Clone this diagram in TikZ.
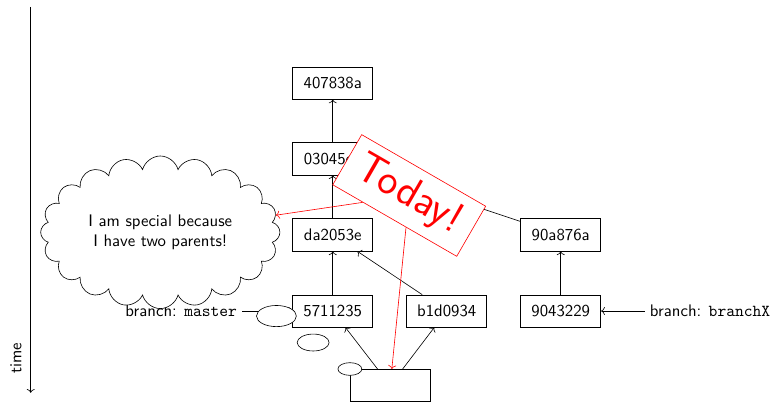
\documentclass[tikz,border=0pt]{standalone}
\usepackage{tikz}
\usetikzlibrary{arrows.meta,positioning,shapes.symbols,shapes.callouts}

\begin{document}
\begin{tikzpicture}[
      every node/.style={font=\sffamily\fontsize{10.95}{13.6}\selectfont},
      commitbox/.style={
        rectangle, draw, inner xsep=5pt,
        minimum width=1.84cm, minimum height=0.74cm
      },
      thoughtbox/.style={
        cloud callout, draw, fill=white, align=center,
        cloud puffs=20, aspect=1.7,
        callout pointer segments=3,
        minimum width=5.5cm, minimum height=3.1cm
      },
      todaybox/.style={
        rectangle, draw=red, fill=white, text=red, rotate=-30,
        minimum width=3.29cm, minimum height=1.33cm, inner sep=1pt,
        font=\sffamily\fontsize{28}{34}\selectfont
      },
      arr/.style={-{To}},
      redarr/.style={-{To}, red}
    ]
    \useasboundingbox (0,0) rectangle (17.77,-9.264);

    % ===== Time axis =====
    \coordinate (ttop) at (0.706,-0.16);
    \coordinate (tbot) at (0.706,-9.03);
    \draw[arr] (ttop) -- (tbot);
    \node[rotate=90] (timelabel) at (0.368,-8.24) {time};

    % ===== Commits =====
    \node[commitbox] (c407) at (7.65,-1.91) {407838a};
    \node[commitbox] (c030) at (7.65,-3.65) {03045ed};
    \node[commitbox] (cda2) at (7.65,-5.40) {da2053e};
    \node[commitbox] (c571) at (7.65,-7.15) {5711235};
    \node[commitbox] (cb1d) at (10.27,-7.15) {b1d0934};
    \node[commitbox] (c90a) at (12.89,-5.40) {90a876a};
    \node[commitbox] (c904) at (12.89,-7.15) {9043229};

    % ===== Parent links =====
    \draw[arr] (c030) -- (c407);
    \draw[arr] (cda2) -- (c030);
    \draw[arr] (c571) -- (cda2);
    \draw[arr] (cb1d) -- (cda2);
    \draw[arr] (c904) -- (c90a);
    \draw[arr] (c90a) -- (c030);

    % ===== Branches =====
    \node[left=1.15cm of c571] (master) {branch: \texttt{master}};
    \node[right=1cm of c904] (branchx) {branch: \texttt{branchX}};
    \draw[arr] (master) -- (c571);
    \draw[arr] (branchx) -- (c904);

    % ===== Working copy =====
    \node[commitbox] (wc) at (8.97,-8.86) {};
    \draw[arr] (wc) -- (c571);
    \draw[arr] (wc) -- (cb1d);

    % ===== Thought cloud and stamp =====
    \node[thoughtbox, callout absolute pointer={(wc.north west)}] (cloud)
      at (3.685,-5.34) {I am special because\\I have two parents!};
    \node[todaybox] (today) at (9.407,-4.494) {Today!};
    \draw[redarr] (today) -- (cloud);
    \draw[redarr] (today) -- (wc);
  \end{tikzpicture}
\end{document}
